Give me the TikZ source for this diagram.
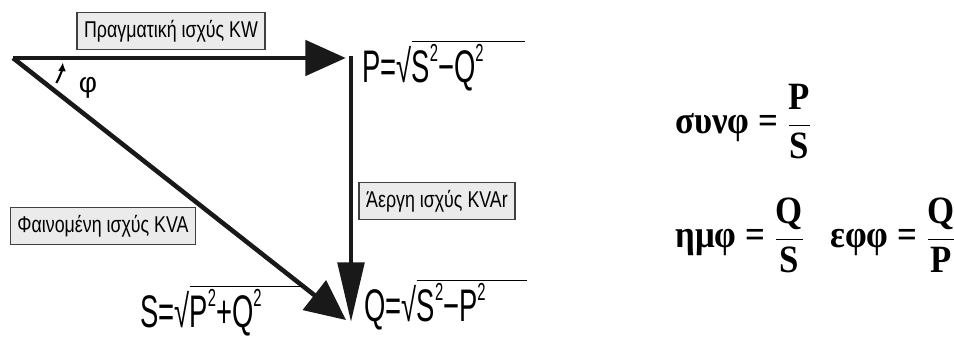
\documentclass[tikz,border=0pt]{standalone}
\usepackage{fontspec}
\setmainfont{Liberation Serif}
\newfontfamily\condfont[FakeStretch=0.78]{Liberation Sans}
\newfontfamily\formfont[FakeStretch=0.6]{Liberation Sans}
\newfontfamily\plainsans{Liberation Sans}
\newfontfamily\ratiofont[FakeStretch=0.9]{Liberation Serif}
\newcommand\sqr[1]{\raisebox{0.48em}{\fontsize{14}{14}\selectfont #1}}
\usetikzlibrary{arrows.meta}

\begin{document}
\begin{tikzpicture}[x=0.02cm,y=-0.02cm,>=Latex]
  \tikzset{labelbox/.style={draw=black!75,fill=black!8,line width=0.9pt,inner xsep=4pt,minimum height=21pt,font=\condfont\fontsize{13}{15}\selectfont},
    vec/.style={line width=2.6pt,black!90},
    formula/.style={anchor=base west,inner sep=0pt,font=\formfont\fontsize{26}{30}\selectfont},
    ratio/.style={anchor=base west,inner sep=0pt,font=\ratiofont\bfseries\fontsize{22}{26}\selectfont}}
  \useasboundingbox (0,0) rectangle (954,337);
  % power triangle
  \coordinate (o) at (13,58);
  \coordinate (p) at (351,58);
  \coordinate (q) at (351,322);
  \draw[vec,-{Triangle[length=23pt,width=20pt]}] (o) -- ([xshift=-3pt]p);
  \draw[vec,-{Triangle[length=34pt,width=15pt]}] ([yshift=1.3pt]p) -- (q);
  \draw[vec,-{Triangle[length=23pt,width=21pt]}] (o) -- ([xshift=-2.8pt,yshift=1.1pt]q);
  \draw[line width=1.2pt,-{Latex[length=5pt,width=4.5pt]}] ([shift={(30:50)}]o) arc[start angle=30,end angle=5,radius=50];
  \node[font=\plainsans\fontsize{16}{18}\selectfont] (phi) at (88,88) {φ};
  % labels
  \node[labelbox] (real) at (171,31) {Πραγματική ισχύς KW};
  \node[labelbox] (reactive) at (437,201) {Άεργη ισχύς KVAr};
  \node[labelbox] (apparent) at (103,226) {Φαινομένη ισχύς KVA};
  \node[formula] (pform) at (362,83) {P=√$\overline{\hbox{S\sqr{2}−Q\sqr{2}\hspace{0.9em}}}$};
  \node[formula] (sform) at (140,328) {S=√$\overline{\hbox{P\sqr{2}+Q\sqr{2}\hspace{0.9em}}}$};
  \node[formula] (qform) at (364,322) {Q=√$\overline{\hbox{S\sqr{2}−P\sqr{2}\hspace{0.9em}}}$};
  % ratios
  \node[ratio] (cosphi) at (675,134) {συνφ = $\displaystyle\frac{\textbf{P}}{\textbf{S}}$};
  \node[ratio] (sinphi) at (675,248) {ημφ = $\displaystyle\frac{\textbf{Q}}{\textbf{S}}$};
  \node[ratio] (tanphi) at (830,248) {εφφ = $\displaystyle\frac{\textbf{Q}}{\textbf{P}}$};
\end{tikzpicture}
\end{document}
